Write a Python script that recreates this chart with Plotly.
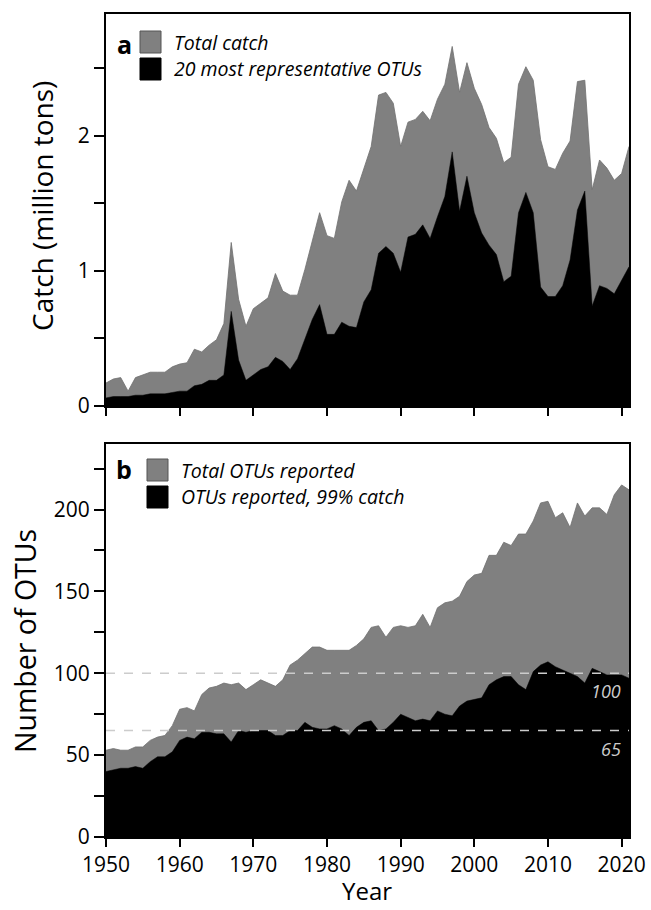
import plotly.graph_objects as go

years = list(range(1950, 2022))

total_catch = [0.17, 0.20, 0.21, 0.11, 0.21, 0.23, 0.25, 0.25, 0.25, 0.29,
               0.31, 0.32, 0.42, 0.40, 0.45, 0.49, 0.61, 1.21, 0.79, 0.59,
               0.72, 0.76, 0.80, 0.98, 0.85, 0.82, 0.82, 1.01, 1.22, 1.43,
               1.26, 1.24, 1.51, 1.67, 1.59, 1.75, 1.92, 2.30, 2.32, 2.24,
               1.92, 2.10, 2.12, 2.18, 2.11, 2.27, 2.38, 2.66, 2.32, 2.54,
               2.35, 2.23, 2.06, 1.98, 1.80, 1.84, 2.38, 2.51, 2.41, 1.97,
               1.77, 1.75, 1.87, 1.96, 2.40, 2.41, 1.60, 1.82, 1.76, 1.67,
               1.72, 1.92]

top20_catch = [0.06, 0.07, 0.07, 0.07, 0.08, 0.08, 0.09, 0.09, 0.09, 0.10,
               0.11, 0.11, 0.15, 0.16, 0.19, 0.19, 0.23, 0.70, 0.34, 0.19,
               0.23, 0.27, 0.29, 0.36, 0.33, 0.27, 0.35, 0.49, 0.64, 0.75,
               0.53, 0.53, 0.62, 0.59, 0.58, 0.77, 0.86, 1.13, 1.18, 1.13,
               0.99, 1.25, 1.27, 1.34, 1.24, 1.40, 1.55, 1.88, 1.44, 1.70,
               1.43, 1.28, 1.19, 1.12, 0.92, 0.96, 1.43, 1.58, 1.43, 0.88,
               0.81, 0.81, 0.89, 1.08, 1.45, 1.59, 0.74, 0.89, 0.87, 0.83,
               0.93, 1.03]

total_otus = [53, 54, 53, 53, 55, 55, 59, 61, 62, 68,
              78, 79, 77, 87, 91, 92, 94, 93, 94, 90,
              93, 96, 94, 92, 96, 105, 108, 112, 116, 116,
              114, 114, 114, 114, 117, 121, 128, 129, 122, 128,
              129, 128, 129, 136, 128, 140, 143, 144, 147, 156,
              160, 161, 172, 172, 180, 178, 185, 185, 193, 204,
              205, 195, 198, 189, 204, 196, 201, 201, 197, 209,
              215, 212]

otus_99 = [40, 41, 42, 42, 43, 42, 46, 49, 49, 52,
           59, 61, 60, 64, 64, 63, 63, 58, 65, 64,
           65, 65, 65, 62, 62, 65, 65, 70, 67, 66,
           66, 68, 66, 62, 67, 70, 71, 65, 66, 70,
           75, 73, 71, 72, 71, 77, 75, 74, 80, 83,
           84, 85, 93, 96, 98, 98, 93, 90, 101, 105,
           107, 104, 102, 100, 98, 94, 103, 101, 99, 99,
           99, 97]

ref_lines = [100, 65]
x_ticks = [1950, 1960, 1970, 1980, 1990, 2000, 2010, 2020]
legend_a = ["Total catch", "20 most representative OTUs"]
legend_b = ["Total OTUs reported", "OTUs reported, 99% catch"]

GRAY = "#808080"
FONT = "Open Sans"

fig = go.Figure()
fig.add_trace(go.Scatter(x=years, y=total_catch, fill="tozeroy", mode="lines",
                         line=dict(color="#707070", width=0.8), fillcolor=GRAY,
                         xaxis="x", yaxis="y", showlegend=False, hoverinfo="skip"))
fig.add_trace(go.Scatter(x=years, y=top20_catch, fill="tozeroy", mode="lines",
                         line=dict(color="#000000", width=0.5), fillcolor="#000000",
                         xaxis="x", yaxis="y", showlegend=False, hoverinfo="skip"))
fig.add_trace(go.Scatter(x=years, y=total_otus, fill="tozeroy", mode="lines",
                         line=dict(color="#707070", width=0.8), fillcolor=GRAY,
                         xaxis="x2", yaxis="y2", showlegend=False, hoverinfo="skip"))
fig.add_trace(go.Scatter(x=years, y=otus_99, fill="tozeroy", mode="lines",
                         line=dict(color="#000000", width=0.5), fillcolor="#000000",
                         xaxis="x2", yaxis="y2", showlegend=False, hoverinfo="skip"))

W, H = 651, 910
xdom = [106 / W, 629 / W]
ydom_a = [1 - 406 / H, 1 - 14 / H]
ydom_b = [1 - 837 / H, 1 - 444 / H]

axis_common = dict(showline=True, linecolor="black", linewidth=2, mirror=True,
                   ticks="outside", tickwidth=2, tickcolor="black",
                   showgrid=False, zeroline=False, automargin=False,
                   tickfont=dict(family=FONT, size=21, color="black"))

minor_style = dict(ticks="outside", ticklen=10, tickwidth=2, tickcolor="black")

fig.update_layout(
    width=W, height=H,
    margin=dict(l=0, r=0, t=0, b=0, pad=0, autoexpand=False),
    plot_bgcolor="white", paper_bgcolor="white",
    font=dict(family=FONT, color="black"),
    showlegend=False,
    xaxis=dict(domain=xdom, anchor="y", range=[1950, 2021], tickvals=x_ticks,
               ticklen=8, showticklabels=False, **axis_common),
    yaxis=dict(domain=ydom_a, anchor="x", range=[0, 2.9], tickvals=[0, 1, 2],
               ticklen=10, minor=dict(tickvals=[0.5, 1.5, 2.5], **minor_style),
               **axis_common),
    xaxis2=dict(domain=xdom, anchor="y2", range=[1950, 2021], tickvals=x_ticks,
                ticklen=8, **axis_common),
    yaxis2=dict(domain=ydom_b, anchor="x2", range=[0, 240],
                tickvals=[0, 50, 100, 150, 200], ticklen=10,
                minor=dict(tickvals=[25, 75, 125, 175, 225], **minor_style),
                **axis_common),
)

shapes = []
annotations = []

# reference lines in panel b
for v in ref_lines:
    shapes.append(dict(type="line", xref="x2 domain", yref="y2", x0=0, x1=1,
                       y0=v, y1=v, line=dict(color="#cccccc", width=1.5, dash="dash"),
                       layer="above"))
    annotations.append(dict(xref="x2 domain", yref="y2", x=0.988, y=v,
                            text="<i>%d</i>" % v,
                            showarrow=False, xanchor="right", yanchor="top", yshift=-4,
                            font=dict(family=FONT, size=18, color="#cccccc")))


def px_x(p):
    return p / W


def px_y(p):
    return 1 - p / H


def legend_block(letter, lx, ly, sq_x0, sq_y0, labels):
    annotations.append(dict(xref="paper", yref="paper", x=px_x(lx), y=px_y(ly),
                            text="<b>%s</b>" % letter, showarrow=False,
                            xanchor="center", yanchor="middle",
                            font=dict(family=FONT, size=25, color="black")))
    colors = [(GRAY, "#555555"), ("#000000", "#000000")]
    for i, (lab, (fc, lc)) in enumerate(zip(labels, colors)):
        y0 = sq_y0 + i * 27
        shapes.append(dict(type="rect", xref="paper", yref="paper",
                           x0=px_x(sq_x0), x1=px_x(sq_x0 + 21),
                           y0=px_y(y0 + 22), y1=px_y(y0),
                           fillcolor=fc, line=dict(color=lc, width=1)))
        annotations.append(dict(xref="paper", yref="paper", x=px_x(sq_x0 + 32),
                                y=px_y(y0 + 11), text="<i>%s</i>" % lab,
                                showarrow=False, xanchor="left", yanchor="middle",
                                font=dict(family=FONT, size=19.5, color="black")))


legend_block("a", 124, 44, 140, 31, legend_a)
legend_block("b", 124, 469, 147, 459, legend_b)

# axis titles
annotations.append(dict(xref="paper", yref="paper", x=px_x(42), y=px_y(206),
                        text="Catch (million tons)", textangle=-90, showarrow=False,
                        xanchor="center", yanchor="middle",
                        font=dict(family=FONT, size=28, color="black")))
annotations.append(dict(xref="paper", yref="paper", x=px_x(25), y=px_y(641),
                        text="Number of OTUs", textangle=-90, showarrow=False,
                        xanchor="center", yanchor="middle",
                        font=dict(family=FONT, size=28.5, color="black")))
annotations.append(dict(xref="paper", yref="paper", x=px_x(367), y=px_y(890),
                        text="Year", showarrow=False,
                        xanchor="center", yanchor="middle",
                        font=dict(family=FONT, size=24, color="black")))

fig.update_layout(shapes=shapes, annotations=annotations)

fig.write_html("out.html",
               config={"displayModeBar": False},
               post_script="document.body.style.margin='0px';"
                           "document.body.style.padding='0px';"
                           "document.body.style.overflow='hidden';")
